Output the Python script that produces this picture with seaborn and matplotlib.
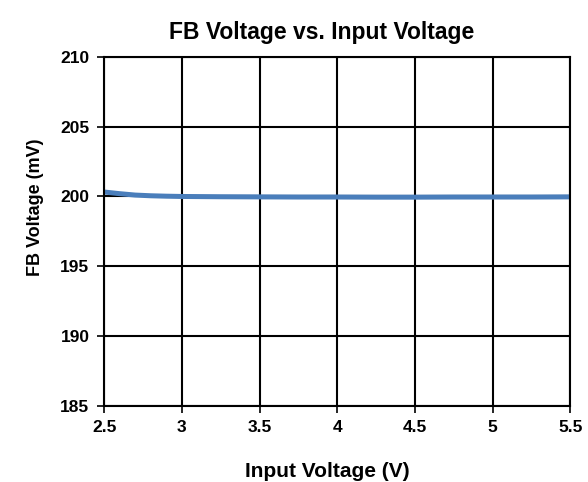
import matplotlib
matplotlib.use("Agg")
import matplotlib.pyplot as plt
import seaborn as sns
import pandas as pd

# Data
vin = [2.5, 2.6, 2.7, 2.8, 2.9, 3.0, 3.25, 3.5, 3.75, 4.0, 4.25, 4.5, 4.75, 5.0, 5.25, 5.5]
vfb = [200.32, 200.2, 200.1, 200.05, 200.02, 200.0, 199.98, 199.97, 199.96, 199.96, 199.95, 199.95, 199.96, 199.96, 199.96, 199.97]

df = pd.DataFrame({"vin": vin, "vfb": vfb})

sns.set_theme(style="white")
plt.rcParams["font.family"] = ["Liberation Sans", "DejaVu Sans"]
plt.rcParams["font.weight"] = "bold"
for key in ["text.color", "axes.labelcolor", "xtick.color", "ytick.color"]:
    plt.rcParams[key] = "black"

fig = plt.figure(figsize=(5.88, 4.82), dpi=100)
ax = fig.add_axes([0.177, 0.158, 0.793, 0.724])

sns.lineplot(data=df, x="vin", y="vfb", ax=ax, color="#4A7EBB", linewidth=3.6)

ax.set_xlim(2.5, 5.5)
ax.set_ylim(185, 210)
ax.set_xticks([2.5, 3, 3.5, 4, 4.5, 5, 5.5])
ax.set_xticklabels(["2.5", "3", "3.5", "4", "4.5", "5", "5.5"])
ax.set_yticks([185, 190, 195, 200, 205, 210])
ax.grid(True, color="black", linewidth=1.5)
ax.set_axisbelow(True)
for s in ax.spines.values():
    s.set_color("black")
    s.set_linewidth(1.5)
ax.tick_params(axis="both", which="major", direction="out", length=5, width=1.2,
               color="black", labelsize=12.5, pad=5.5, left=True, bottom=True)
for lbl in ax.get_xticklabels() + ax.get_yticklabels():
    lbl.set_fontweight("bold")

ax.set_title("FB Voltage vs. Input Voltage", fontsize=16.5, fontweight="bold", pad=13)
ax.title.set_x(0.466)
ax.set_xlabel("Input Voltage (V)", fontsize=15, fontweight="bold", labelpad=19)
ax.xaxis.label.set_x(0.478)
ax.set_ylabel("FB Voltage (mV)", fontsize=13, fontweight="bold", labelpad=12)
ax.yaxis.label.set_y(0.569)

fig.savefig("out.png", dpi=100)
